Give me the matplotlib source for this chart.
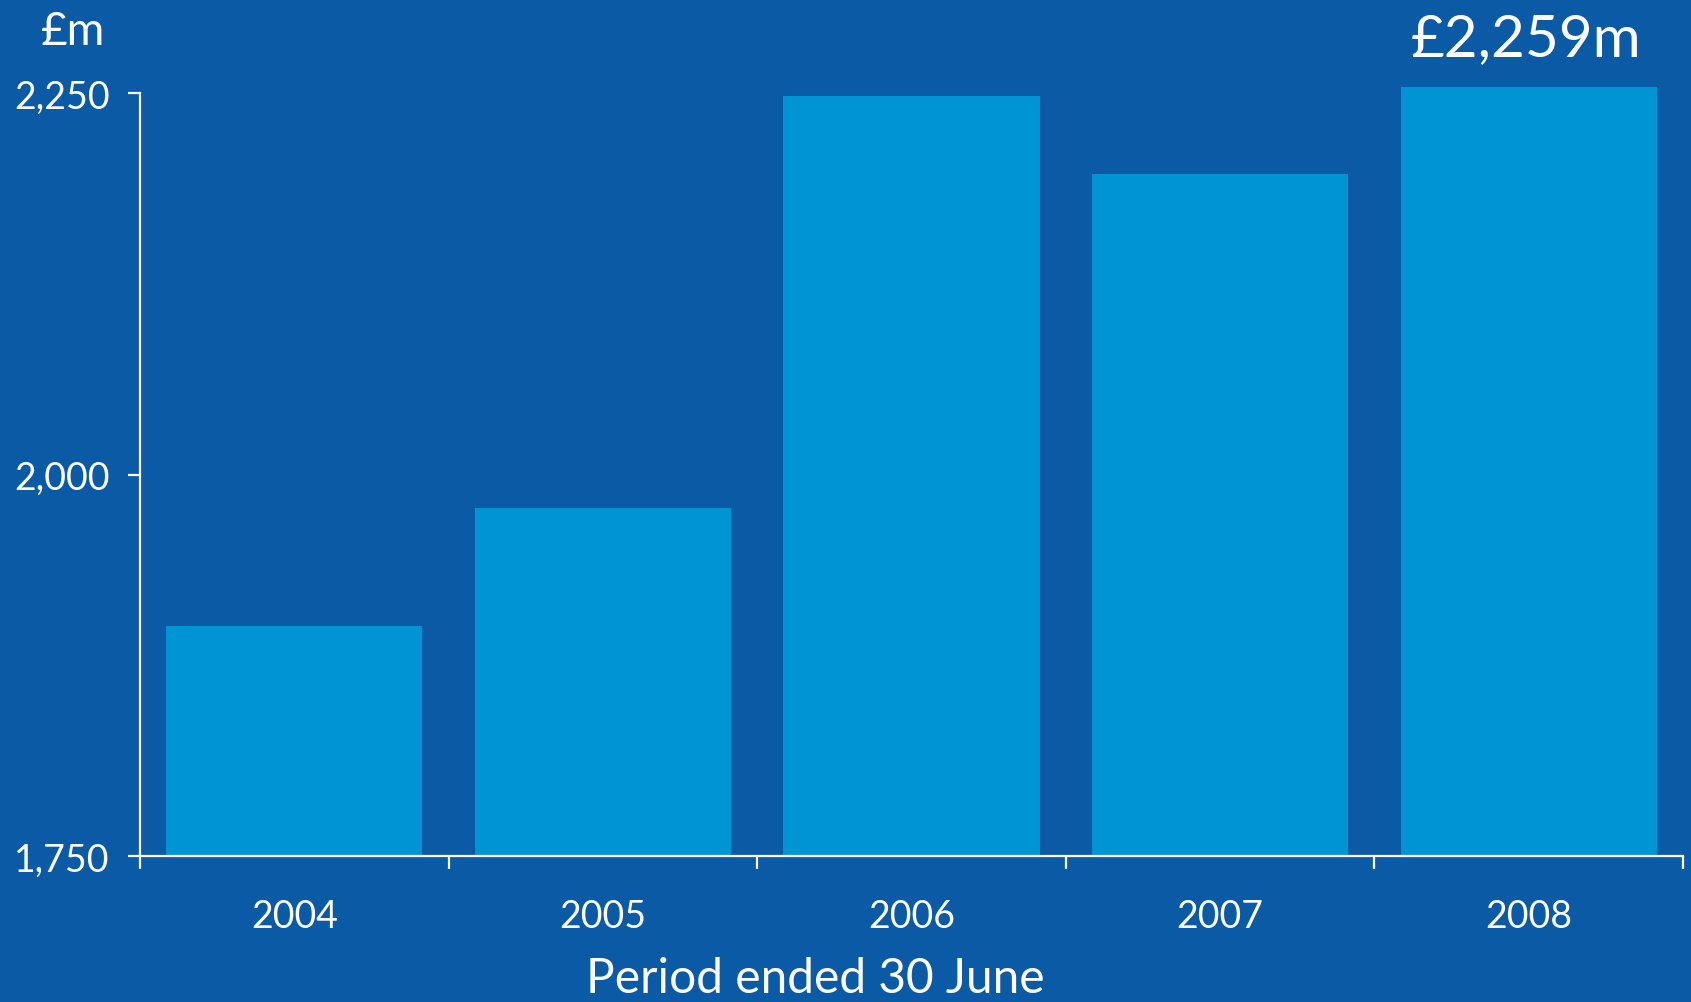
import matplotlib
matplotlib.use("Agg")
import matplotlib.pyplot as plt
from matplotlib.ticker import FixedLocator

years = ["2004", "2005", "2006", "2007", "2008"]
profit = [1901, 1978, 2248, 2197, 2254]
yticks = [1750, 2000, 2250]
ytick_labels = ["1,750", "2,000", "2,250"]
highlight = "£2,259m"

bg = "#0a5aa5"
bar_col = "#0094d4"
plt.rcParams["font.family"] = ["Lato", "DejaVu Sans"]

fig = plt.figure(figsize=(16.91, 10.03), dpi=100, facecolor=bg)
ax = fig.add_axes([140 / 1691, 1 - 857 / 1003, 1543 / 1691, (857 - 94) / 1003])
ax.set_facecolor(bg)

base = yticks[0]
x = range(len(years))
ax.bar(x, [v - base for v in profit], bottom=base, width=0.83, color=bar_col,
       clip_on=False, zorder=1)
ax.set_xlim(-0.5, len(years) - 0.5)
ax.set_ylim(1750, 2250)

for s in ["top", "right"]:
    ax.spines[s].set_visible(False)
for s in ["left", "bottom"]:
    ax.spines[s].set_color("white")
    ax.spines[s].set_linewidth(1.6)
    ax.spines[s].set_zorder(3)

ax.set_yticks(yticks)
ax.set_yticklabels(ytick_labels)
ax.tick_params(axis="y", colors="white", labelsize=27, length=9, width=1.6, pad=13)

ax.set_xticks(list(x))
ax.set_xticklabels(years)
ax.tick_params(axis="x", which="major", colors="white", labelsize=27, length=0, pad=30)
ax.xaxis.set_minor_locator(FixedLocator([i - 0.5 for i in range(len(years) + 1)]))
ax.tick_params(axis="x", which="minor", colors="white", length=9, width=1.6)

ax.set_xlabel("Period ended 30 June", color="white", fontsize=34.5)
ax.xaxis.set_label_coords((815 - 140) / 1543, -(979 - 857) / 763)
ax.xaxis.label.set_va("center")

fig.text(73 / 1691, 1 - 32 / 1003, "£m", color="white", fontsize=33, ha="center", va="center")
ax.text(len(years) - 1 - 0.01, 2268, highlight, color="white", fontsize=42,
        ha="center", va="bottom")

fig.savefig("out.png", dpi=100, facecolor=bg)
